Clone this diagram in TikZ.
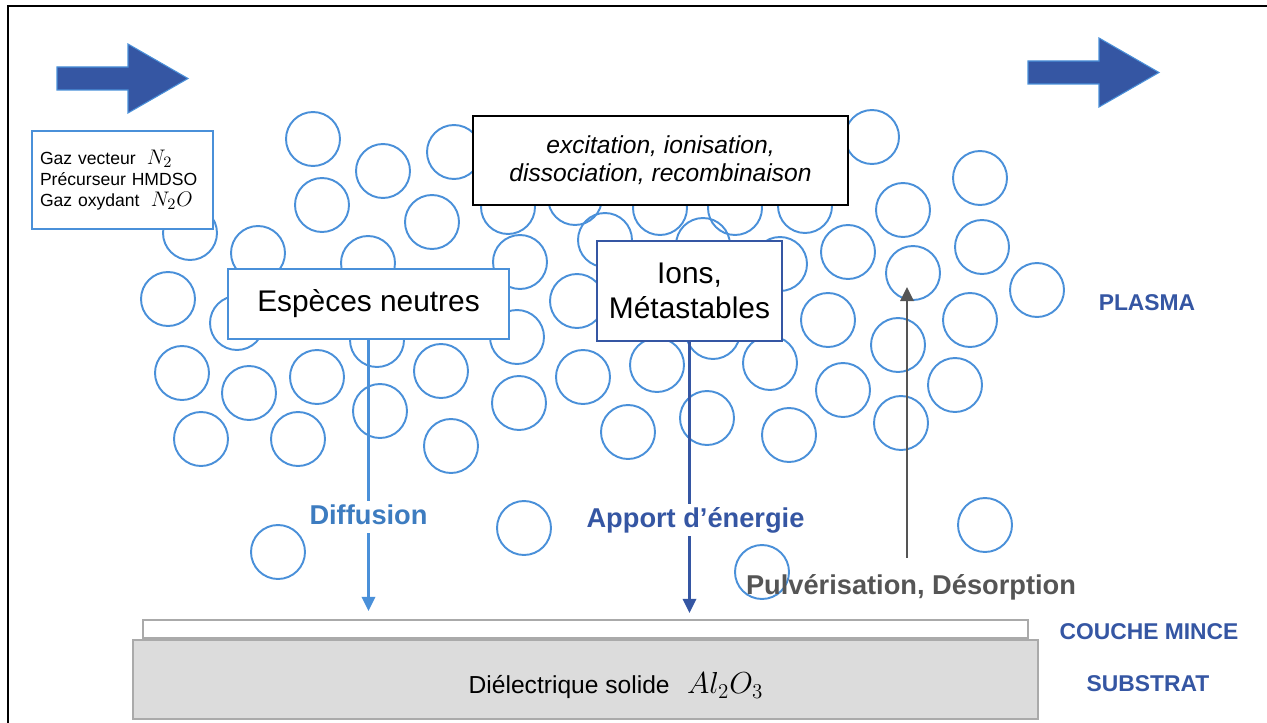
\documentclass[tikz,border=0pt]{standalone}
\usepackage{fontspec}
\setmainfont{Liberation Sans}
\usetikzlibrary{arrows.meta}
\definecolor{lightblue}{HTML}{4A90D9}
\definecolor{darkblue}{HTML}{3556A3}
\definecolor{steelblue}{HTML}{3D7CC0}
\definecolor{arrowgray}{HTML}{555555}
\definecolor{layergray}{HTML}{AAAAAA}
\definecolor{substratefill}{HTML}{DCDCDC}
\def\flowarrow(#1,#2){\draw[bigarrow] (#1,#2) ++(0,-11.5) -- ++(71,0) -- ++(0,-23) -- ++(60,34.5) -- ++(-60,34.5) -- ++(0,-23) -- ++(-71,0) -- cycle;}
\tikzset{
	molecule/.style={draw=lightblue, line width=1.1pt},
	bigarrow/.style={fill=darkblue, draw=lightblue, line width=0.6pt},
	gasbox/.style={draw=lightblue, line width=1.3pt, fill=white, minimum height=1.96cm, inner xsep=0.16cm, text width=3.3cm, align=left, font=\fontsize{10}{12}\selectfont},
	procbox/.style={draw=black, line width=1.4pt, fill=white, minimum width=7.5cm, minimum height=1.78cm, align=center, font=\fontsize{14}{16}\selectfont\itshape},
	speciesbox/.style={line width=1.3pt, fill=white, align=center, font=\fontsize{17}{20}\selectfont},
	fluxlabel/.style={fill=white, inner sep=2pt, text height=11pt, text depth=3pt, font=\fontsize{15.5}{18}\selectfont\bfseries},
	zonelabel/.style={text=darkblue, font=\fontsize{13}{15}\selectfont\bfseries},
	layer/.style={draw=layergray, line width=1.2pt, inner sep=0pt},
	fluxtip/.style={-{Triangle[length=8pt,width=7.5pt]}}
}
\begin{document}
\begin{tikzpicture}[x=0.02cm,y=-0.02cm]
	\useasboundingbox (0,0) rectangle (1267,723);
	\draw[line width=1.2pt] (8,723) -- (8,6) -- (1267,6);

	\foreach \cx/\cy in {313/139, 383/171, 454/152, 190/233, 258/253, 322/205, 432/222, 368/263, 168/299, 237/323, 377/340, 520/262, 517/337, 182/373, 249/393, 317/377, 380/411, 441/371, 519/403, 201/439, 298/439, 451/446,
		508/207, 575/198, 660/208, 735/208, 805/206, 872/137, 605/240, 703/245, 780/264, 848/252, 577/301, 583/377, 657/365, 628/432, 707/418, 713/332, 770/363, 789/435, 843/390, 828/320,
		898/345, 901/423, 955/385, 970/320, 913/273, 903/210, 980/178, 982/247, 1037/290,
		278/552, 524/528, 985/525, 762/572}
		\draw[molecule] (\cx,\cy) circle[radius=0.54cm];

	\flowarrow(57,78.5)
	\flowarrow(1028,72.5)

	\node[gasbox] (gaz) at (122.5,180) {Gaz vecteur\hspace{3pt} {\fontsize{13}{12}\selectfont$N_2$}\\ Précurseur HMDSO\\ Gaz oxydant\hspace{3pt} {\fontsize{13}{12}\selectfont$N_2O$}};
	\node[procbox] (proc) at (660.5,160.5) {excitation, ionisation,\\ dissociation, recombinaison};
	\node[speciesbox, draw=lightblue, minimum width=5.62cm, minimum height=1.4cm] (neutres) at (368.5,304) {Espèces neutres};
	\node[speciesbox, draw=darkblue, minimum width=3.7cm, minimum height=2cm] (ions) at (689.5,291) {Ions,\\ Métastables};

	\node[layer, fill=white, minimum width=17.7cm, minimum height=0.36cm] (couche) at (585.5,629) {};
	\node[layer, fill=substratefill, minimum width=18.1cm, minimum height=1.58cm] (substrat) at (585.5,679.5) {};
	\node[font=\fontsize{14}{16}\selectfont] (dielectrique) at (616,686) {Diélectrique solide\hspace{6pt} {\fontsize{16.5}{18}\selectfont$Al_2O_3$}};

	\node[fluxlabel, text=steelblue] (diffusion) at (368.5,517) {Diffusion};
	\coordinate (diffend) at (368.5,611);
	\draw[draw=lightblue, line width=1.6pt] (neutres.south) -- (diffusion.north);
	\draw[draw=lightblue, line width=1.6pt, fluxtip] (diffusion.south) -- (diffend);

	\node[fluxlabel, text=darkblue] (apport) at (695.5,520) {Apport d’énergie};
	\coordinate (apportend) at (689.5,613);
	\draw[draw=darkblue, line width=1.6pt] (ions.south) -- (ions.south |- apport.north);
	\draw[draw=darkblue, line width=1.6pt, fluxtip] (ions.south |- apport.south) -- (apportend);

	\node[fluxlabel, fill=none, text=arrowgray] (pulv) at (911,587) {Pulvérisation, Désorption};
	\coordinate (pulvtip) at (907,287);
	\draw[draw=arrowgray, line width=1.6pt, fluxtip] (pulv.north -| pulvtip) ++(0,-13) -- (pulvtip);

	\node[zonelabel] (plasma) at (1147,303) {PLASMA};
	\node[zonelabel] (couchelbl) at (1149,632) {COUCHE MINCE};
	\node[zonelabel] (substratlbl) at (1148,684) {SUBSTRAT};
\end{tikzpicture}
\end{document}
